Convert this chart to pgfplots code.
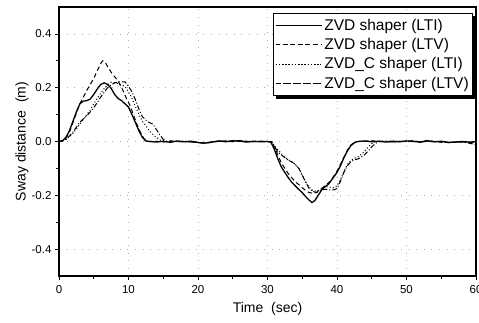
\documentclass[border=0pt]{standalone}
\usepackage{pgfplots}
\pgfplotsset{compat=1.18}
\usepackage{fontspec}
\setmainfont{Liberation Sans}
\begin{document}
\begin{tikzpicture}
\begin{axis}[
  scale only axis,
  width=417bp, height=269bp,
  xmin=0, xmax=60, ymin=-0.5, ymax=0.5,
  xtick={0,10,...,60}, minor xtick={5,15,...,55},
  ytick={-0.4,-0.2,0,0.2,0.4}, minor ytick={-0.3,-0.1,0.1,0.3},
  xtick pos=left, ytick pos=left,
  tick align=outside,
  major tick length=4bp, minor tick length=2.5bp,
  every tick/.style={black, line width=0.8bp},
  axis line style={line width=1.2bp},
  /pgf/number format/assume math mode=true,
  yticklabel style={/pgf/number format/fixed, /pgf/number format/fixed zerofill, /pgf/number format/precision=1},
  xticklabel style={/pgf/number format/fixed, /tikz/yshift=-2bp},
  tick label style={font=\fontsize{11.5bp}{13bp}\selectfont},
  xlabel={Time\ \ (sec)}, ylabel={Sway distance\ \ (m)},
  label style={font=\fontsize{14bp}{16bp}\selectfont},
  xlabel style={at={(rel axis cs:0.5,0)}, anchor=center, yshift=-33bp},
  ylabel style={at={(rel axis cs:0,0.5)}, anchor=center, yshift=37bp},
  grid=major,
  major grid style={gray!60, line width=0.6bp, dash pattern=on 0.6bp off 7bp},
  legend style={at={(rel axis cs:0.993,0.978)}, anchor=north east,
    name=leg,
    draw=black, line width=0.7bp, fill=white,
    font=\fontsize{15.5bp}{18bp}\selectfont, row sep=2.5bp,
    inner xsep=2bp, inner ysep=4bp},
  legend cell align=left,
  legend image code/.code={\path (0bp,0bp) -- (46bp,0bp);\draw[#1] (7bp,0bp) -- (44bp,0bp);},
]
\coordinate (bl) at (rel axis cs:0,0);
\coordinate (tr) at (rel axis cs:1,1);
% ZVD shaper (LTI)
\addplot[black, line width=1.3bp] coordinates {
(0,0)(0.5,0.003)(1,0.015)(1.5,0.04)(2,0.075)(2.5,0.11)(3,0.14)(3.5,0.15)(4,0.152)(4.5,0.158)(5,0.175)(5.5,0.195)(6,0.212)(6.5,0.218)(7,0.212)(7.5,0.198)(8,0.175)(8.5,0.16)(9,0.152)(9.5,0.14)(10,0.128)(10.5,0.1)(11,0.07)(11.5,0.04)(12,0.015)(12.5,0.002)(13,0)
(14,-0.002)(15,0.001)(16,-0.003)(17,0.002)(18,-0.001)(19,0.001)(20,-0.004)(21,-0.006)(22,-0.002)(23,0.002)(24,-0.001)(25,0.003)(26,0.001)(27,-0.002)(28,0.001)(29,-0.001)(30,0)
(30.5,-0.003)(31,-0.03)(31.5,-0.065)(32,-0.095)(32.5,-0.115)(33,-0.135)(33.5,-0.152)(34,-0.165)(34.5,-0.178)(35,-0.19)(35.5,-0.205)(36,-0.218)(36.4,-0.227)(36.8,-0.22)(37.3,-0.2)(37.8,-0.18)(38.3,-0.168)(38.8,-0.158)(39.3,-0.14)(40,-0.115)(40.5,-0.09)(41,-0.06)(41.5,-0.035)(42,-0.015)(42.6,-0.003)(43,0)
(44,0.002)(45,-0.001)(46,0.001)(47,-0.002)(48,0.001)(49,-0.001)(50,0.002)(51,0)(52,-0.002)(53,0.002)(54,-0.001)(55,0.001)(56,-0.003)(57,-0.002)(58,0)(59,-0.002)(60,-0.001)
};
\addlegendentry{ZVD shaper (LTI)}
% ZVD shaper (LTV)
\addplot[black, line width=1bp, dash pattern=on 4.5bp off 3bp] coordinates {
(0,0)(0.5,0.003)(1,0.012)(1.5,0.035)(2,0.07)(2.5,0.105)(3,0.14)(3.5,0.165)(4,0.19)(4.5,0.212)(5,0.235)(5.5,0.262)(6,0.29)(6.3,0.3)(6.7,0.292)(7.2,0.27)(7.7,0.25)(8.2,0.235)(8.7,0.215)(9.2,0.19)(9.7,0.16)(10.2,0.135)(10.7,0.1)(11.2,0.065)(11.7,0.035)(12.2,0.012)(12.7,0)
(14,0.001)(15,-0.002)(16,0.002)(17,-0.001)(18,0.001)(19,-0.002)(20,-0.002)(21,-0.007)(22,-0.003)(23,0.001)(24,0.002)(25,-0.001)(26,0.004)(27,0.001)(28,-0.001)(29,0.001)(30,0)
(30.5,0)(31,-0.02)(31.5,-0.05)(32,-0.08)(32.5,-0.1)(33,-0.12)(33.5,-0.135)(34,-0.15)(34.5,-0.16)(35,-0.172)(35.5,-0.182)(36,-0.19)(36.5,-0.192)(37,-0.19)(37.5,-0.18)(38,-0.17)(38.5,-0.16)(39,-0.148)(39.5,-0.13)(40,-0.11)(40.5,-0.085)(41,-0.058)(41.5,-0.032)(42,-0.013)(42.5,-0.003)(43,0)
(44,0.001)(45,0.003)(46,-0.001)(47,0.001)(48,-0.003)(49,0.001)(50,0)(51,0.003)(52,-0.002)(53,0.004)(54,0)(55,-0.002)(56,-0.004)(57,-0.003)(58,-0.001)(59,-0.004)(60,-0.003)
};
\addlegendentry{ZVD shaper (LTV)}
% ZVD_C shaper (LTI)
\addplot[black, line width=1bp, dash pattern=on 1bp off 2.2bp] coordinates {
(0,0)(0.5,0.002)(1,0.008)(1.5,0.018)(2,0.03)(2.5,0.047)(3,0.065)(3.5,0.083)(4,0.1)(4.5,0.118)(5,0.14)(5.5,0.16)(6,0.18)(6.5,0.197)(7,0.21)(7.5,0.22)(8,0.219)(8.5,0.215)(9,0.21)(9.5,0.205)(10,0.185)(10.5,0.16)(11,0.13)(11.5,0.1)(12,0.075)(12.5,0.058)(13,0.04)(13.5,0.027)(14,0.015)(14.5,0.006)(15,0.002)(15.5,0)
(16,-0.002)(17,0.001)(18,-0.002)(19,0.001)(20,-0.003)(21,-0.005)(22,-0.001)(23,0.002)(24,0)(25,0.002)(26,0.002)(27,-0.001)(28,0.001)(29,-0.001)(30,0)
(30.5,0)(31,-0.015)(31.5,-0.03)(32,-0.045)(32.5,-0.058)(33,-0.068)(33.5,-0.076)(34,-0.085)(34.5,-0.1)(35,-0.125)(35.5,-0.15)(36,-0.17)(36.5,-0.182)(37,-0.185)(37.5,-0.18)(38,-0.172)(38.5,-0.168)(39,-0.17)(39.5,-0.172)(40,-0.165)(40.5,-0.14)(41,-0.11)(41.5,-0.085)(42,-0.07)(42.5,-0.062)(43,-0.058)(43.5,-0.048)(44,-0.035)(44.5,-0.02)(45,-0.008)(45.5,0)
(46,0.001)(47,-0.001)(48,0.002)(49,-0.001)(50,0.001)(51,0.002)(52,-0.001)(53,0.003)(54,0)(55,-0.001)(56,-0.003)(57,-0.002)(58,0)(59,-0.003)(60,-0.002)
};
\addlegendentry{ZVD\_C shaper (LTI)}
% ZVD_C shaper (LTV)
\addplot[black, line width=1bp, dash pattern=on 5bp off 2bp on 1bp off 2bp] coordinates {
(0,0)(0.5,0.002)(1,0.008)(1.5,0.02)(2,0.035)(2.5,0.053)(3,0.072)(3.5,0.084)(4,0.095)(4.5,0.11)(5,0.125)(5.5,0.145)(6,0.165)(6.5,0.183)(7,0.2)(7.5,0.21)(8,0.218)(8.5,0.221)(9,0.222)(9.5,0.222)(10,0.205)(10.5,0.185)(11,0.155)(11.5,0.12)(12,0.092)(12.5,0.08)(13,0.07)(13.5,0.065)(14,0.045)(14.5,0.025)(15,0.008)(15.5,0)
(16,0.002)(17,-0.001)(18,0.001)(19,-0.002)(20,-0.004)(21,-0.006)(22,-0.002)(23,0.001)(24,0.002)(25,0)(26,0.003)(27,0)(28,-0.001)(29,0.001)(30,0)
(30.6,0)(31,-0.02)(31.5,-0.038)(32,-0.05)(32.5,-0.06)(33,-0.07)(33.5,-0.076)(34,-0.085)(34.5,-0.1)(35,-0.125)(35.5,-0.152)(36,-0.175)(36.5,-0.185)(37,-0.19)(37.5,-0.185)(38,-0.178)(38.5,-0.178)(39,-0.18)(39.5,-0.18)(40,-0.175)(40.5,-0.148)(41,-0.115)(41.5,-0.09)(42,-0.075)(42.5,-0.068)(43,-0.065)(43.5,-0.058)(44,-0.048)(44.5,-0.035)(45,-0.02)(45.5,-0.008)(46,0)
(47,0.002)(48,-0.002)(49,0.001)(50,-0.001)(51,0.002)(52,-0.003)(53,0.002)(54,-0.001)(55,-0.002)(56,-0.004)(57,-0.003)(58,-0.002)(59,-0.006)(60,-0.012)
};
\addlegendentry{ZVD\_C shaper (LTV)}
\end{axis}
\fill[black] ([yshift=-3bp]leg.north east) rectangle ([xshift=3bp,yshift=-3bp]leg.south east);
\fill[black] ([xshift=3bp]leg.south west) rectangle ([xshift=3bp,yshift=-3bp]leg.south east);
\pgfresetboundingbox
\path ([xshift=-59bp,yshift=-47bp]bl) rectangle ([xshift=3bp,yshift=7bp]tr);
\end{tikzpicture}
\end{document}
